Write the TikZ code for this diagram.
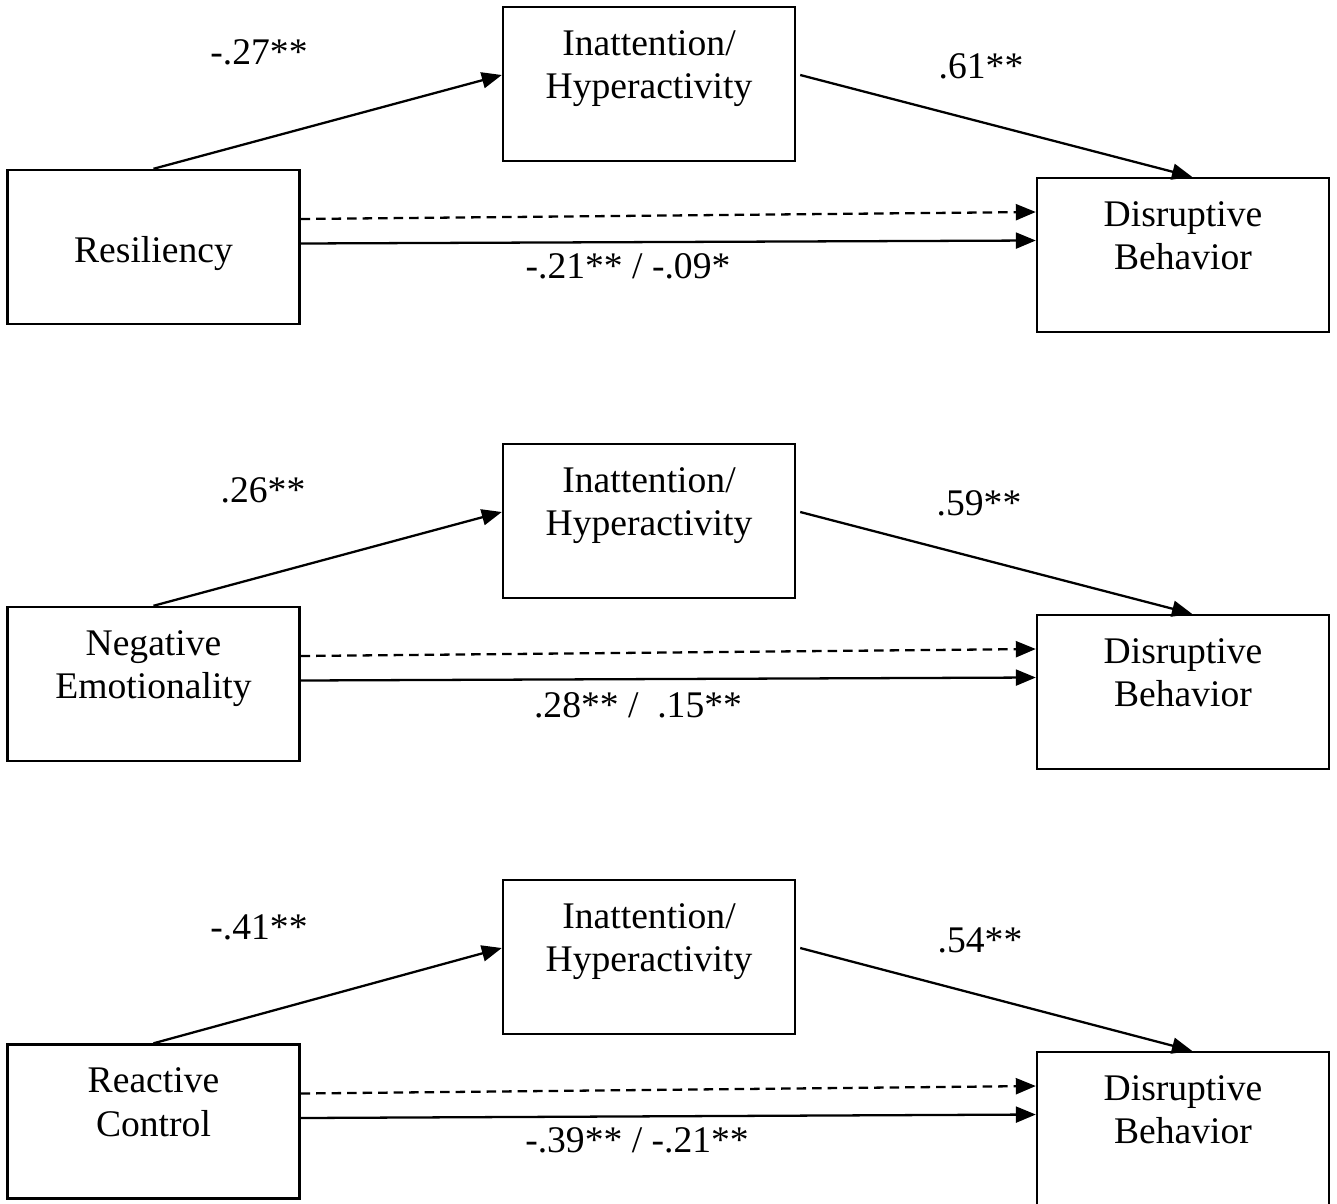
\documentclass[tikz,border=0pt]{standalone}
\usepackage{fontspec}
\setmainfont{Liberation Serif}
\usetikzlibrary{arrows.meta,calc}

\begin{document}
\begin{tikzpicture}[
        x=0.02cm, y=0.02cm,
        box/.style={rectangle, draw, line width=1.4pt, inner sep=0pt, text width=5.84cm, align=center, font=\fontsize{21.4pt}{25pt}\selectfont},
        oneline/.style={box, text height=1.86cm, text depth=1.22cm},
        twoline/.style={box, text height=0.96cm, text depth=2.12cm},
        coef/.style={anchor=base, inner sep=0pt, font=\fontsize{21.4pt}{25pt}\selectfont},
        path_arrow/.style={line width=1.3pt, -{Triangle[length=0.4cm, width=0.32cm]}},
        indirect/.style={path_arrow, dash pattern=on 0.19cm off 0.12cm}
    ]
        \useasboundingbox (0,0) rectangle (1337,-1203);

        % Model 1: resiliency
        \node[oneline] (res) at (153.5,-247) {Resiliency};
        \node[twoline] (ina1) at (649,-84) {Inattention/\\Hyperactivity};
        \node[twoline] (dis1) at (1183,-255) {Disruptive\\Behavior};
        \draw[path_arrow] (res.north) -- ($(ina1.west)+(0,9)$);
        \draw[path_arrow] ($(ina1.east)+(4,9)$) -- ($(dis1.north)+(9,0)$);
        \draw[indirect] ($(res.east)+(0,28)$) -- ($(dis1.west)+(0,43)$);
        \draw[path_arrow] ($(res.east)+(0,3.5)$) -- ($(dis1.west)+(0,14.5)$);
        \node[coef] (c1a) at (259,-65) {-.27**};
        \node[coef] (c1b) at (981,-78) {.61**};
        \node[coef] (c1c) at (628,-278) {-.21** / -.09*};

        % Model 2: negative emotionality
        \node[twoline] (emo) at (153.5,-684) {Negative\\Emotionality};
        \node[twoline] (ina2) at (649,-521) {Inattention/\\Hyperactivity};
        \node[twoline] (dis2) at (1183,-692) {Disruptive\\Behavior};
        \draw[path_arrow] (emo.north) -- ($(ina2.west)+(0,9)$);
        \draw[path_arrow] ($(ina2.east)+(4,9)$) -- ($(dis2.north)+(9,0)$);
        \draw[indirect] ($(emo.east)+(0,28)$) -- ($(dis2.west)+(0,43)$);
        \draw[path_arrow] ($(emo.east)+(0,3.5)$) -- ($(dis2.west)+(0,14.5)$);
        \node[coef] (c2a) at (263,-502) {.26**};
        \node[coef] (c2b) at (979,-515) {.59**};
        \node[coef] (c2c) at (638,-717) {.28** / \ .15**};

        % Model 3: reactive control
        \node[twoline] (rct) at (153.5,-1121.5) {Reactive\\Control};
        \node[twoline] (ina3) at (649,-957) {Inattention/\\Hyperactivity};
        \node[twoline] (dis3) at (1183,-1129) {Disruptive\\Behavior};
        \draw[path_arrow] (rct.north) -- ($(ina3.west)+(0,9)$);
        \draw[path_arrow] ($(ina3.east)+(4,9)$) -- ($(dis3.north)+(9,0)$);
        \draw[indirect] ($(rct.east)+(0,28)$) -- ($(dis3.west)+(0,43)$);
        \draw[path_arrow] ($(rct.east)+(0,3.5)$) -- ($(dis3.west)+(0,14.5)$);
        \node[coef] (c3a) at (259,-939) {-.41**};
        \node[coef] (c3b) at (980,-952) {.54**};
        \node[coef] (c3c) at (637,-1152) {-.39** / -.21**};

    \end{tikzpicture}
\end{document}
